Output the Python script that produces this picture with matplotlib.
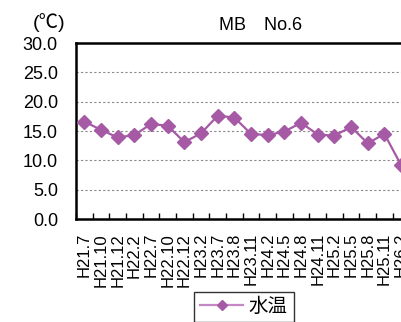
import matplotlib
matplotlib.use("Agg")
import matplotlib.pyplot as plt
from matplotlib.ticker import FixedLocator, NullFormatter

plt.rcParams["font.family"] = ["Liberation Sans", "Noto Sans CJK JP", "DejaVu Sans"]

# survey dates (Heisei year.month) and water temperature at MB No.6
dates = ["H21.7", "H21.10", "H21.12", "H22.2", "H22.7", "H22.10", "H22.12",
         "H23.2", "H23.7", "H23.8", "H23.11", "H24.2", "H24.5", "H24.8",
         "H24.11", "H25.2", "H25.5", "H25.8", "H25.11", "H26.2"]
water_temp = [16.6, 15.2, 13.9, 14.3, 16.2, 15.9, 13.1, 14.6, 17.6, 17.3,
              14.5, 14.3, 14.9, 16.4, 14.4, 14.2, 15.7, 12.9, 14.5, 9.2]
y_ticks = [0, 5, 10, 15, 20, 25, 30]

W, H = 401, 322
fig = plt.figure(figsize=(W / 100, H / 100), dpi=100)

# plot area runs past the right edge of the figure
n_slots = 22
step = 16.67
ax = fig.add_axes([76 / W, (H - 219) / H, n_slots * step / W, 176 / H])

x = list(range(len(dates)))
color = "#A65AA6"
ax.plot(x, water_temp, color=color, lw=1.6, marker="D", ms=7.2,
        mfc=color, mec=color, label="水温", zorder=3)

ax.set_xlim(-0.5, n_slots - 0.5)
ax.set_ylim(0, 30)

ax.set_yticks(y_ticks)
ax.set_yticklabels([f"{v:.1f}" for v in y_ticks], fontsize=13)
ax.tick_params(axis="y", length=0, pad=13)

ax.set_xticks(x)
ax.set_xticklabels(dates, rotation=90, fontsize=12)
ax.tick_params(axis="x", which="major", length=0, pad=10)
ax.xaxis.set_minor_locator(FixedLocator([i - 0.5 for i in range(n_slots + 1)]))
ax.xaxis.set_minor_formatter(NullFormatter())
ax.tick_params(axis="x", which="minor", direction="in", length=4, width=1, color="black")

for v in y_ticks[1:-1]:
    ax.axhline(v, color="#8a8a8a", lw=0.8, ls=(0, (2, 2)), zorder=1)

for side in ["left", "bottom", "top"]:
    ax.spines[side].set_linewidth(1.8)
ax.spines["right"].set_visible(False)

fig.text(261 / W, 1 - 25 / H, "MB\u3000No.6", ha="center", va="center", fontsize=13)
fig.text(49 / W, 1 - 23 / H, "(℃)", ha="center", va="center", fontsize=14)

leg = fig.legend(loc="upper center", bbox_to_anchor=(244 / W, 1 - 292 / H),
                 fontsize=14, frameon=True, fancybox=False, handlelength=2.2,
                 borderpad=0.3, borderaxespad=0, handletextpad=0.3, markerscale=0.75)
leg.get_frame().set_edgecolor("black")
leg.get_frame().set_linewidth(1.0)
leg.get_lines()[0].set_color("#C488C4")

plt.savefig("out.png", dpi=100)
